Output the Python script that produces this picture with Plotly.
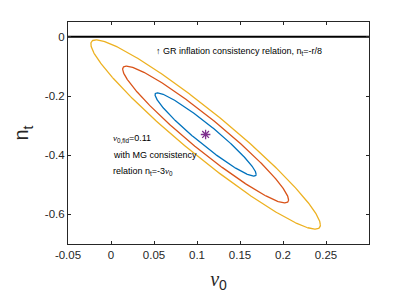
import numpy as np
import plotly.graph_objects as go

# Fiducial point and Fisher-ellipse parameters
center_nu0 = 0.11
center_nt = -0.33
sigma_nu0 = 0.0388
sigma_nt = 0.0930
rho = -0.955
levels = [1.515, 2.486, 3.439]          # 68.3%, 95.4%, 99.7% (2 dof)
level_colors = ["#0072BD", "#D95319", "#EDB120"]

x_ticks = [-0.05, 0, 0.05, 0.1, 0.15, 0.2, 0.25]
x_tick_labels = ["-0.05", "0", "0.05", "0.1", "0.15", "0.2", "0.25"]
y_ticks = [0, -0.2, -0.4, -0.6]
y_tick_labels = ["0", "-0.2", "-0.4", "-0.6"]

gr_line_x = [-0.05, 0.30]
gr_line_y = [0, 0]

cov = np.array([[sigma_nu0**2, rho * sigma_nu0 * sigma_nt],
                [rho * sigma_nu0 * sigma_nt, sigma_nt**2]])
L = np.linalg.cholesky(cov)
t = np.linspace(0, 2 * np.pi, 400)
circle = np.vstack([np.cos(t), np.sin(t)])

fig = go.Figure()
for k, c in zip(levels, level_colors):
    pts = L @ (k * circle)
    fig.add_trace(go.Scatter(x=center_nu0 + pts[0], y=center_nt + pts[1],
                             mode="lines", line=dict(color=c, width=1.3),
                             showlegend=False, hoverinfo="skip"))

fig.add_trace(go.Scatter(x=gr_line_x, y=gr_line_y, mode="lines",
                         line=dict(color="black", width=2), showlegend=False))
fig.add_trace(go.Scatter(x=[center_nu0], y=[center_nt], mode="markers",
                         marker=dict(symbol="asterisk-open", size=8, color="#7E2F8E",
                                     line=dict(color="#7E2F8E", width=1.3)),
                         showlegend=False))

font = "Liberation Sans, Arial, sans-serif"
nu = "<span style='font-family:Liberation Serif'><i>ν</i></span>"
ann_font = dict(family=font, size=9, color="black")
fig.add_annotation(x=0.05, y=-0.048, xref="x", yref="y", xanchor="left",
                   text="↑ GR inflation consistency relation, n<sub>t</sub>=-r/8",
                   showarrow=False, font=ann_font)
fig.add_annotation(x=0.0, y=-0.345, xref="x", yref="y", xanchor="left",
                   text=nu + "<sub>0,fid</sub>=0.11",
                   showarrow=False, font=ann_font)
fig.add_annotation(x=0.0, y=-0.40, xref="x", yref="y", xanchor="left",
                   text="with MG consistency",
                   showarrow=False, font=ann_font)
fig.add_annotation(x=0.0, y=-0.455, xref="x", yref="y", xanchor="left",
                   text="relation n<sub>t</sub>=-3" + nu + "<sub>0</sub>",
                   showarrow=False, font=ann_font)

axis_common = dict(showline=True, linecolor="#262626", linewidth=1, mirror="allticks",
                   ticks="inside", ticklen=3, tickcolor="#262626", showgrid=False,
                   zeroline=False, tickfont=dict(family=font, size=11.5, color="#262626"))
fig.update_xaxes(range=[-0.05, 0.30], tickvals=x_ticks, ticktext=x_tick_labels,
                 title=dict(text=nu + "<sub>0</sub>", font=dict(family=font, size=20, color="#262626"),
                            standoff=12),
                 **axis_common)
fig.update_yaxes(range=[-0.7, 0.05], tickvals=y_ticks, ticktext=y_tick_labels,
                 title=dict(text="n<sub>t</sub>", font=dict(family=font, size=20, color="#262626"),
                            standoff=10),
                 **axis_common)
fig.update_layout(width=407, height=305, plot_bgcolor="white", paper_bgcolor="white",
                  margin=dict(l=68, r=38, t=22, b=61), showlegend=False)
fig.write_html("out.html", config={"displayModeBar": False},
               post_script="document.body.style.margin='0';")
